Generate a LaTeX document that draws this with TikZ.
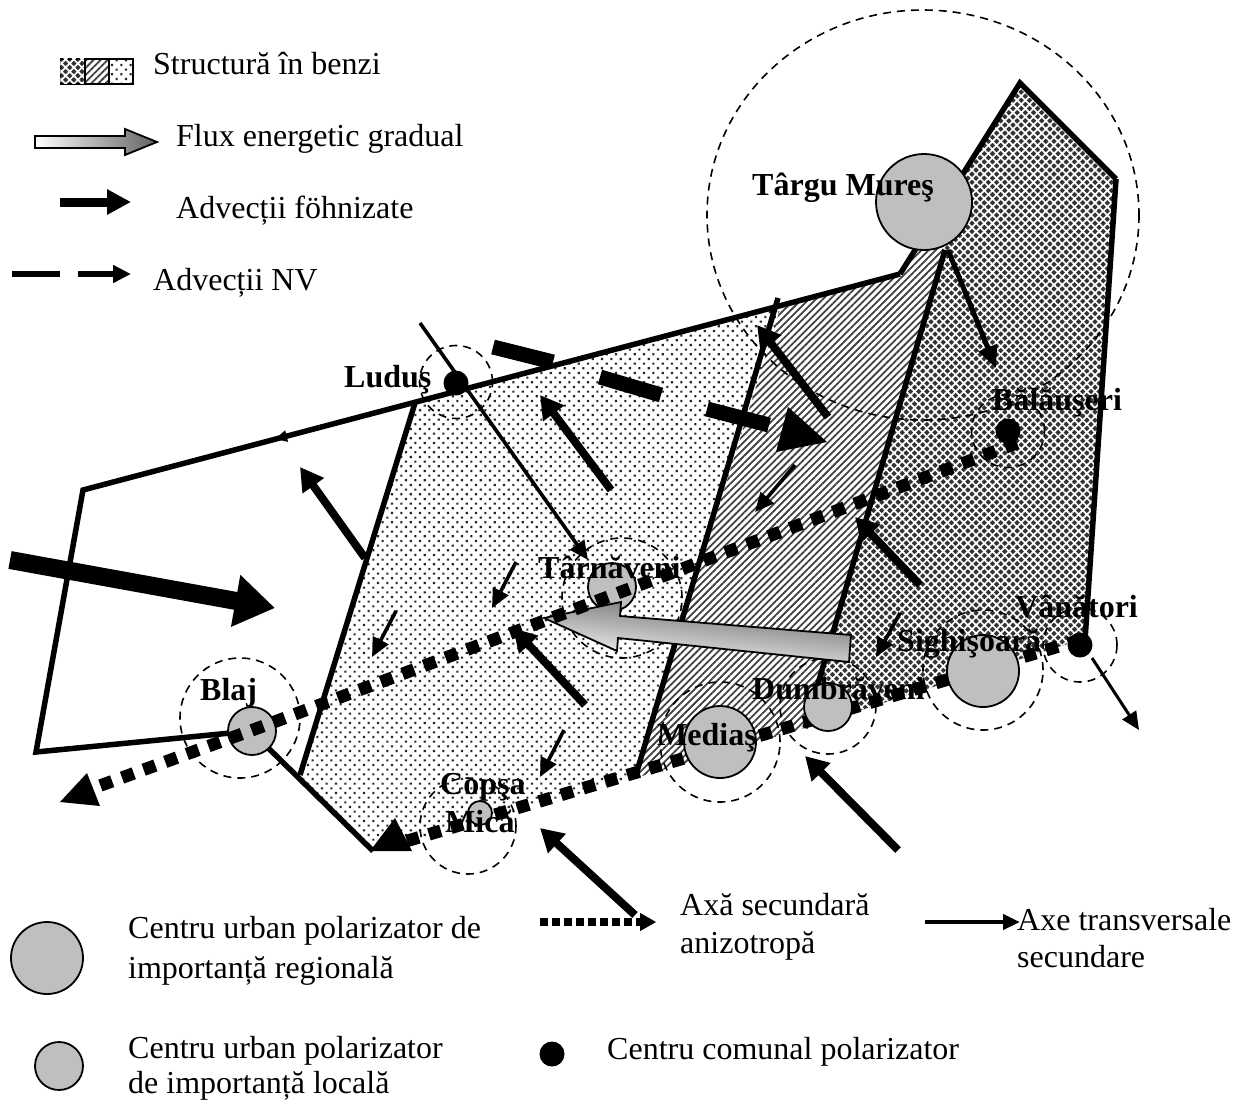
\documentclass[tikz,border=0pt]{standalone}
\usepackage{fontspec}
\setmainfont{Liberation Serif}
\usetikzlibrary{arrows.meta,patterns.meta,shadings}
\definecolor{cgrey}{gray}{0.75}
\tikzset{
  dotsfill/.style={pattern={Dots[angle=45,distance=6.6pt,radius=1.5pt]},pattern color=black!85},
  linesfill/.style={pattern={Lines[angle=45,distance=5pt,line width=1.8pt]},pattern color=black!75},
  checkfill/.style={fill=black!80,postaction={pattern={Hatch[angle=45,distance=5.8pt,line width=1.7pt]},pattern color=white}},
  border/.style={draw=black,line width=5.5pt,line cap=butt,line join=miter},
  halo/.style={draw=black,line width=1.6pt,dash pattern=on 8pt off 6pt},
  centreA/.style={circle,draw=black,line width=1.8pt,fill=cgrey,inner sep=0pt,minimum size=72pt},
  centreB/.style={circle,draw=black,line width=1.8pt,fill=cgrey,inner sep=0pt,minimum size=48pt},
  centreC/.style={circle,fill=black,inner sep=0pt,minimum size=25pt},
  fohn/.style={line width=8pt,-{Triangle[length=23pt,width=25pt]}},
  thinarrow/.style={line width=3.6pt,-{Triangle[length=19pt,width=17pt]}},
  axisline/.style={line width=12.5pt,dash pattern=on 12.5pt off 10.5pt},
  lab/.style={anchor=base west,inner sep=0pt,font=\fontsize{32}{38}\selectfont},
  city/.style={anchor=base west,inner sep=0pt,font=\fontsize{32}{38}\selectfont\bfseries},
}
\begin{document}
\begin{tikzpicture}[x=1pt,y=-1pt]
\path[use as bounding box] (0,0) rectangle (1241,1101);
% named points of the map
\coordinate (A) at (83,490);
\coordinate (B) at (900,274);
\coordinate (C) at (1020,83);
\coordinate (D) at (1116,179);
\coordinate (E) at (1085,640);
\coordinate (F) at (36,752);
\coordinate (G) at (373,851);
\coordinate (P) at (415,403);
\coordinate (Q) at (300,775);
\coordinate (R) at (778,298);
\coordinate (S) at (635,778);
\coordinate (T) at (945,250);
\coordinate (U) at (805,728);
\coordinate (Bm) at (925,235);
\coordinate (Ax) at (1080,640);
\coordinate (Rb) at (781,306);
% bands
\path[dotsfill] (P) -- (Rb) -- (S) -- (G) -- (Q) -- cycle;
\path[linesfill] (Rb) -- (B) -- (Bm) -- (T) -- (U) -- (S) -- cycle;
\path[checkfill] (Bm) -- (C) -- (D) -- (E) -- (Ax) -- (U) -- (T) -- cycle;
% halos
\node[halo,circle,minimum size=120pt,inner sep=0pt] (hBlaj) at (240,718) {};
\node[halo,circle,minimum size=96pt,inner sep=0pt] (hCopsa) at (468,826) {};
\node[halo,circle,minimum size=120pt,inner sep=0pt] (hTarn) at (622,598) {};
\node[halo,circle,minimum size=120pt,inner sep=0pt] (hMedias) at (720,742) {};
\node[halo,circle,minimum size=96pt,inner sep=0pt] (hDumb) at (828,706) {};
\node[halo,circle,minimum size=120pt,inner sep=0pt] (hSigh) at (983,670) {};
\node[halo,circle,minimum size=74pt,inner sep=0pt] (hVan) at (1080,645) {};
\node[halo,circle,minimum size=73pt,inner sep=0pt] (hLud) at (456,382) {};
\node[halo,circle,minimum size=73pt,inner sep=0pt] (hBal) at (1008,431) {};
\draw[draw=black,line width=1.6pt,dash pattern=on 8pt off 6pt] (923,215) ellipse [x radius=216,y radius=205];
% outline and band edges
\draw[border] (D) -- (E);
\draw[border] (B) -- (A) -- (F) -- (251,731) -- (G);
\draw[border] (B) -- (C) -- (D);
\draw[border] (P) -- (Q);
\draw[border] (R) -- (S);
\draw[border] (T) -- (U);
% small tip on the north edge
\coordinate (n1) at (295,434);
\coordinate (n2) at (275,439);
\draw[line width=3pt,-{Triangle[length=12pt,width=11pt]}] (n1) -- (n2);
% southern axis, under the centres
\coordinate (y1) at (1080,640);
\coordinate (y2) at (400,843);
\draw[axisline] (y1) -- (y2);
\fill (370,851) -- (395,818) -- (412,851) -- cycle;
% centres
\node[centreA,minimum size=96pt] (mures) at (924,202) {};
\node[centreB] (blaj) at (252,731) {};
\node[centreB,minimum size=24pt] (copsa) at (480,813) {};
\node[centreB] (tarn) at (612,587) {};
\node[centreA] (medias) at (720,742) {};
\node[centreB] (dumb) at (828,707) {};
\node[centreA] (sigh) at (983,671) {};
\node[centreC] (van) at (1080,645) {};
\node[centreC] (lud) at (456,383) {};
\node[centreC] (bal) at (1008,431) {};
% gradient flux
\coordinate (f1) at (851,635);
\coordinate (f2) at (849,662);
\coordinate (f3) at (618,638);
\coordinate (f4) at (617,651);
\coordinate (f5) at (544,618);
\coordinate (f6) at (621,602);
\coordinate (f7) at (620,616);
\shade[draw=black,line width=1.8pt,left color=black!62,right color=white,shading angle=-6] (f1) -- (f2) -- (f3) -- (f4) -- (f5) -- (f6) -- (f7) -- cycle;
% main axis
\coordinate (x1) at (1017,443);
\coordinate (x2) at (833,512);
\coordinate (x3) at (565,613);
\coordinate (x4) at (250,731);
\coordinate (x5) at (88,790);
\coordinate (x6) at (60,802);
\draw[axisline] (x1) -- (x2) -- (x3) -- (x4) -- (x5);
\fill (x6) -- (87,773) -- (100,806) -- cycle;
% foehn arrows
\foreach \n/\ax/\ay/\bx/\by in {1/365/558/300/467,2/611/490/540/395,3/828/417/757/325,4/920/585/855/517,5/585/705/513/628,6/898/850/805/756,7/635/915/540/828}{
  \coordinate (w\n a) at (\ax,\ay);
  \coordinate (w\n b) at (\bx,\by);
  \draw[fohn] (w\n a) -- (w\n b);
}
\coordinate (big1) at (10,560);
\coordinate (big2) at (275,608);
\draw[line width=18pt,-{Triangle[length=40pt,width=50pt]}] (big1) -- (big2);
% north-west advections
\coordinate (nv1) at (493,347);\coordinate (nv2) at (553,362);
\coordinate (nv3) at (600,377);\coordinate (nv4) at (661,395);
\coordinate (nv5) at (707,409);\coordinate (nv6) at (769,425);
\draw[line width=15pt] (nv1) -- (nv2);
\draw[line width=15pt] (nv3) -- (nv4);
\draw[line width=15pt] (nv5) -- (nv6);
\fill (788,407) -- (827,442) -- (776,452) -- cycle;
% thin arrows
\foreach \n/\ax/\ay/\bx/\by in {1/795/465/755/512,2/516/562/492/608,3/396/611/372/657,4/564/730/540/777,5/900/613/876/657}{
  \coordinate (t\n a) at (\ax,\ay);
  \coordinate (t\n b) at (\bx,\by);
  \draw[thinarrow] (t\n a) -- (t\n b);
}
\coordinate (l1) at (420,323);\coordinate (l2) at (588,560);
\draw[thinarrow] (l1) -- (l2);
\coordinate (m1) at (948,250);\coordinate (m2) at (996,368);
\draw[line width=5pt,-{Triangle[length=22pt,width=19pt]}] (m1) -- (m2);
\coordinate (v1) at (1092,658);\coordinate (v2) at (1139,730);
\draw[line width=3pt,-{Triangle[length=18pt,width=16pt]}] (v1) -- (v2);
% legend
\node[draw=black,line width=1.5pt,minimum width=25pt,minimum height=25pt,inner sep=0pt,anchor=north west,fill=black!80,postaction={pattern={Hatch[angle=45,distance=5.8pt,line width=1.7pt]},pattern color=white}] (sw1) at (59.5,58) {};
\node[draw=black,line width=1.5pt,minimum width=24pt,minimum height=25pt,inner sep=0pt,anchor=north west,linesfill] (sw2) at (84,58) {};
\node[draw=black,line width=1.5pt,minimum width=24pt,minimum height=25pt,inner sep=0pt,anchor=north west,dotsfill] (sw3) at (108,58) {};
\shade[draw=black,line width=1.8pt,left color=white,right color=black!62] (35,136) -- (125,136) -- (125,129) -- (157,142) -- (125,155) -- (125,148) -- (35,148) -- cycle;
\coordinate (lf1) at (60,202);\coordinate (lf2) at (131,202);
\draw[line width=9pt,-{Triangle[length=24pt,width=24pt]}] (lf1) -- (lf2);
\coordinate (ln1) at (12,274);\coordinate (ln2) at (60,274);
\coordinate (ln3) at (78,274);\coordinate (ln4) at (131,274);
\draw[line width=6pt] (ln1) -- (ln2);
\draw[line width=6pt,-{Triangle[length=18pt,width=17pt]}] (ln3) -- (ln4);
\coordinate (la1) at (540,922);\coordinate (la2) at (640,922);\coordinate (la3) at (656,922);
\draw[line width=8pt,dash pattern=on 8pt off 4pt] (la1) -- (la2);
\draw[line width=1pt,-{Triangle[length=16pt,width=18pt]}] (la2) -- (la3);
\coordinate (lb1) at (925,922);\coordinate (lb2) at (1020,922);
\draw[line width=4.5pt,-{Triangle[length=17pt,width=15pt]}] (lb1) -- (lb2);
\node[centreA] (lc1) at (47,958) {};
\node[centreB] (lc2) at (59,1066) {};
\node[centreC] (lc3) at (552,1054) {};
% legend text
\node[lab] (s1) at (153,74) {Structură în benzi};
\node[lab] (s2) at (176,146) {Flux energetic gradual};
\node[lab] (s3) at (176,218) {Advecții föhnizate};
\node[lab] (s4) at (153,290) {Advecții NV};
\node[lab] (s5) at (128,938) {Centru urban polarizator de};
\node[lab] (s6) at (128,978) {importanță regională};
\node[lab] (s7) at (128,1058) {Centru urban polarizator};
\node[lab] (s8) at (128,1093) {de importanță locală};
\node[lab] (s9) at (680,915) {Axă secundară};
\node[lab] (s10) at (680,953) {anizotropă};
\node[lab] (s11) at (1017,930) {Axe transversale};
\node[lab] (s12) at (1017,967) {secundare};
\node[lab] (s13) at (607,1059) {Centru comunal polarizator};
% city names
\node[city] (nMures) at (752,195) {Târgu Mureş};
\node[city] (nLud) at (344,387) {Luduş};
\node[city] (nBal) at (992,410) {Bălăuşeri};
\node[city] (nTarn) at (538,578) {Târnăveni};
\node[city] (nVan) at (1015,617) {Vânători};
\node[city] (nSigh) at (897,651) {Sighişoară};
\node[city] (nDumb) at (752,699) {Dumbrăveni};
\node[city] (nMed) at (657,745) {Mediaş};
\node[city] (nBlaj) at (200,700) {Blaj};
\node[city] (nCop) at (440,794) {Copşa};
\node[city] (nMic) at (445,832) {Mică};
\end{tikzpicture}
\end{document}
